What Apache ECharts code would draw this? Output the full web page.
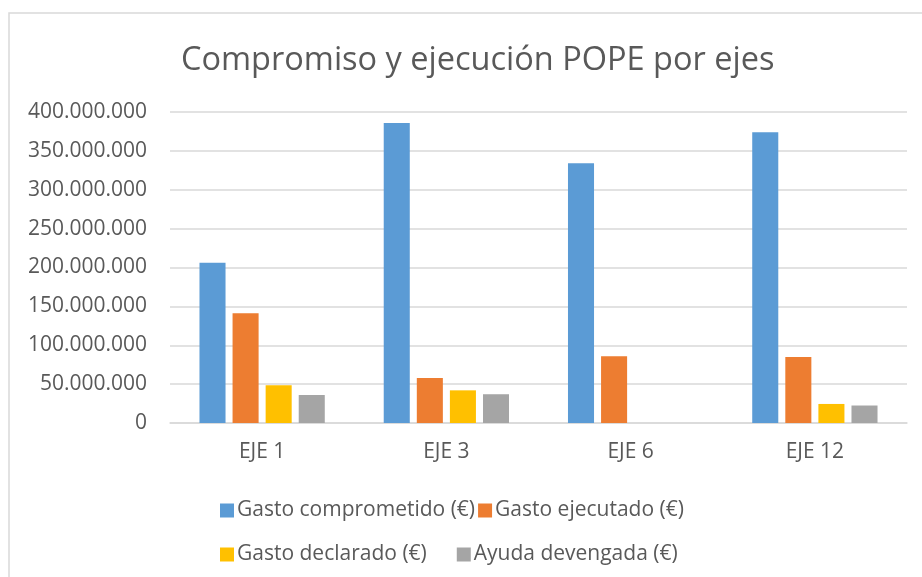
<!DOCTYPE html>
<html>
<head>
<meta charset="utf-8">
<script src="https://cdn.jsdelivr.net/npm/echarts@6/dist/echarts.min.js"></script>
<style>
  html, body { margin: 0; padding: 0; background: #fff; }
  #chart { width: 922px; height: 577px; }
</style>
</head>
<body>
<div id="chart"></div>
<script>
// datos
const categories = ['EJE 1', 'EJE 3', 'EJE 6', 'EJE 12'];
const comprometido = [206000000, 386000000, 334000000, 374000000];
const ejecutado = [141000000, 58000000, 86000000, 85000000];
const declarado = [48500000, 42000000, 0, 24500000];
const devengada = [36000000, 37000000, 0, 22500000];
const seriesNames = ['Gasto comprometido (€)', 'Gasto ejecutado (€)', 'Gasto declarado (€)', 'Ayuda devengada (€)'];
const colors = ['#5B9BD5', '#ED7D31', '#FFC000', '#A5A5A5'];

const font = '"Open Sans", "Noto Sans", sans-serif';
const txt = '#595959';

function miles (v) {
  return String(v).replace(/\B(?=(\d{3})+(?!\d))/g, '.');
}

const chart = echarts.init(document.getElementById('chart'));

const seriesData = [comprometido, ejecutado, declarado, devengada];

const option = {
  animation: false,
  color: colors,
  title: {
    text: 'Compromiso y ejecución POPE por ejes',
    left: 176,
    top: 39,
    textStyle: { fontFamily: font, fontSize: 32.5, fontWeight: 'normal', color: txt }
  },
  graphic: [{
    type: 'rect',
    shape: { x: 9, y: 13, width: 1000, height: 1000 },
    style: { fill: 'none', stroke: '#D9D9D9', lineWidth: 1.5 },
    silent: true
  }],
  legend: [
    {
      data: [seriesNames[0], seriesNames[1]],
      left: 215, top: 495,
      itemWidth: 14, itemHeight: 14, itemGap: 3,
      textStyle: { fontFamily: font, fontSize: 21, color: txt, padding: [0, 0, 0, -2] },
      icon: 'rect'
    },
    {
      data: [seriesNames[2], seriesNames[3]],
      left: 215, top: 539,
      itemWidth: 14, itemHeight: 14, itemGap: 30,
      textStyle: { fontFamily: font, fontSize: 21, color: txt, padding: [0, 0, 0, -2] },
      icon: 'rect'
    }
  ],
  grid: { left: 170, right: 15, top: 112, bottom: 154 },
  xAxis: {
    type: 'category',
    data: categories,
    axisLine: { lineStyle: { color: '#D9D9D9', width: 1.5 } },
    axisTick: { show: false },
    axisLabel: { fontFamily: font, fontSize: 21, color: txt, margin: 19 }
  },
  yAxis: {
    type: 'value',
    min: 0, max: 400000000, interval: 50000000,
    axisLine: { show: false },
    axisTick: { show: false },
    splitLine: { lineStyle: { color: '#D9D9D9', width: 1.5 } },
    axisLabel: { fontFamily: font, fontSize: 21, color: txt, margin: 23, formatter: miles }
  },
  series: seriesNames.map((name, i) => ({
    name: name,
    type: 'bar',
    data: seriesData[i],
    barGap: '27%',
    barCategoryGap: '32%',
    itemStyle: { color: colors[i] }
  }))
};

chart.setOption(option);
</script>
</body>
</html>
